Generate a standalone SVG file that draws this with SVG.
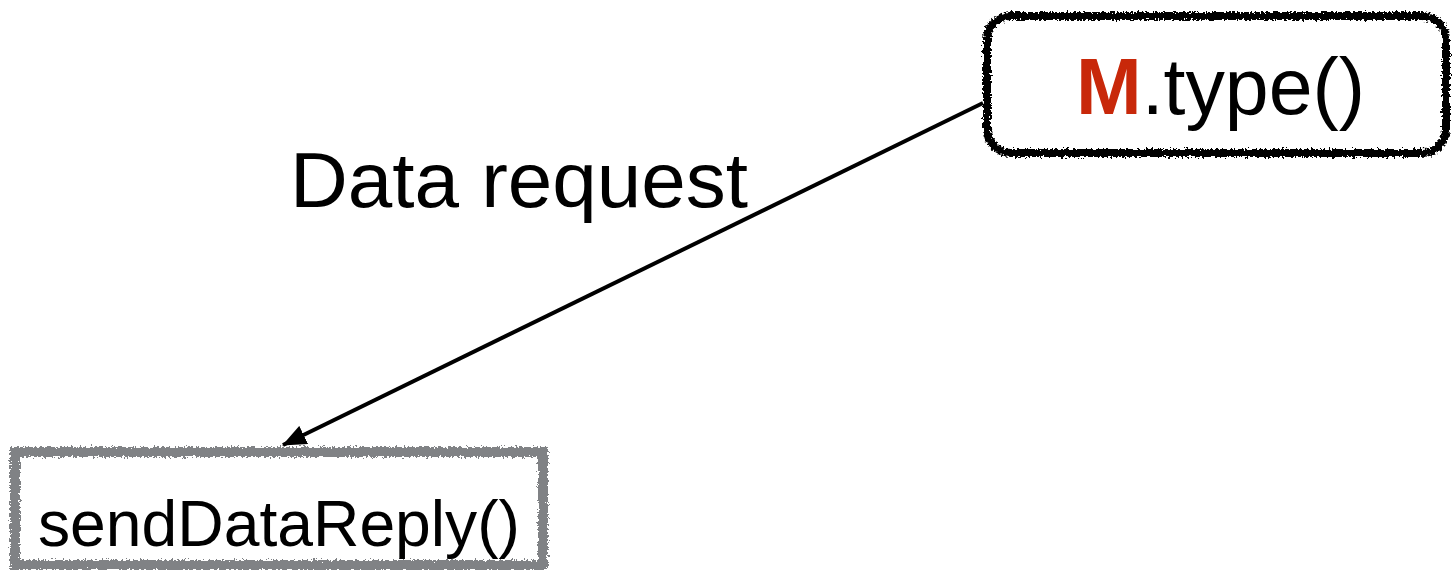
<svg xmlns="http://www.w3.org/2000/svg" width="1452" height="570" viewBox="0 0 1452 570">
  <style>
    .lbl { font-family: "Liberation Sans", Arial, sans-serif; fill: #000; }
    .edge { stroke: #000; stroke-width: 4; fill: none; }
  </style>
  <defs>
    <!-- chalky, hand-drawn edge for the node outlines -->
    <filter id="rough" x="-5%" y="-10%" width="110%" height="120%">
      <feTurbulence type="fractalNoise" baseFrequency="0.45" numOctaves="2" seed="3" result="n"/>
      <feDisplacementMap in="SourceGraphic" in2="n" scale="7" xChannelSelector="R" yChannelSelector="G"/>
    </filter>
    <marker id="head" viewBox="0 0 24 20" refX="23" refY="10" markerWidth="24" markerHeight="20" orient="auto" markerUnits="userSpaceOnUse">
      <path d="M0,0 L24,10 L0,20 z" fill="#000"/>
    </marker>
  </defs>

  <g id="connectors">
    <line class="edge" x1="983" y1="103" x2="283" y2="445" marker-end="url(#head)"/>
  </g>

  <g id="edge-label">
    <text class="lbl" x="290" y="207" font-size="77" textLength="458" lengthAdjust="spacingAndGlyphs">Data request</text>
  </g>

  <g id="node-type">
    <rect x="987" y="16" width="459" height="137" rx="24" ry="24" fill="#fff" stroke="#000" stroke-width="8" filter="url(#rough)"/>
    <text class="lbl" x="1076" y="114" font-size="80" textLength="289" lengthAdjust="spacingAndGlyphs"><tspan fill="#c8280a" font-weight="bold">M</tspan>.type()</text>
  </g>

  <g id="node-reply">
    <rect x="15" y="452" width="528" height="113" fill="#fff" stroke="#808285" stroke-width="10" filter="url(#rough)"/>
    <text class="lbl" x="38" y="546" font-size="64" textLength="482" lengthAdjust="spacingAndGlyphs">sendDataReply()</text>
  </g>
</svg>
